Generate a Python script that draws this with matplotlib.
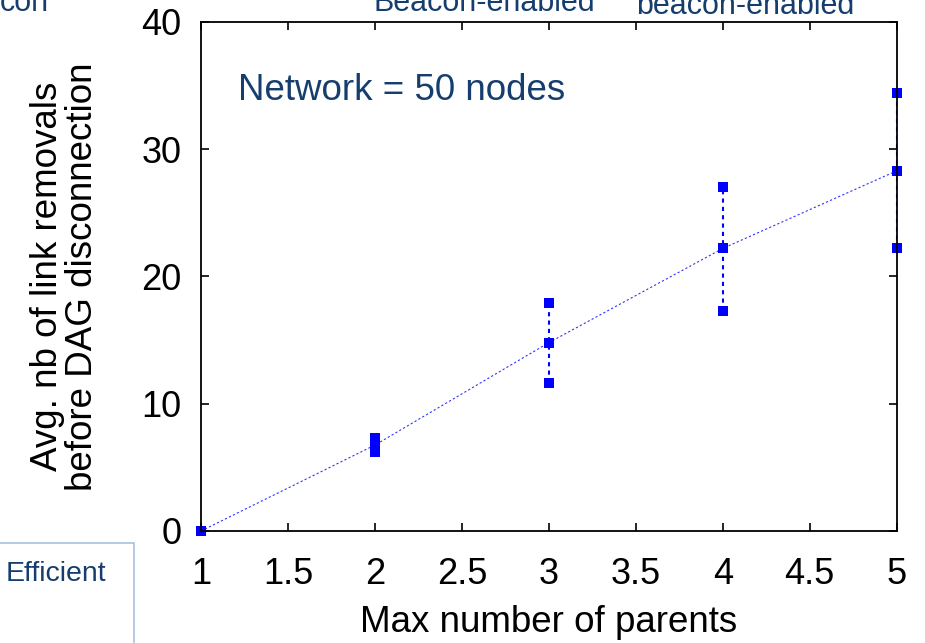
import matplotlib
matplotlib.use("Agg")
import matplotlib.pyplot as plt
from matplotlib.patches import Rectangle

plt.rcParams['font.family'] = ['Liberation Sans', 'DejaVu Sans']

# max number of parents and link removals before the DAG disconnects
parents = [1, 2, 3, 4, 5]
removals_mean = [0.0, 6.75, 14.8, 22.2, 28.3]
removals_low = [0.0, 6.2, 11.6, 17.3, 22.2]
removals_high = [0.0, 7.3, 17.9, 27.0, 34.4]

blue = '#0000ff'
navy = '#153e6e'

fig = plt.figure(figsize=(9.25, 6.43), dpi=100)
ax = fig.add_axes([0.2173, 0.1742, 0.752, 0.7916])

ax.plot(parents, removals_mean, color=blue, lw=0.8, ls=(0, (2, 2)), alpha=0.8)
for x, lo, hi in zip(parents, removals_low, removals_high):
    ax.plot([x, x], [lo, hi], color=blue, lw=1.5, ls=(0, (2, 2)))
for vals in (removals_mean, removals_low, removals_high):
    ax.plot(parents, vals, 's', color=blue, ms=7, mew=0, clip_on=False)

ax.set_xlim(1, 5)
ax.set_ylim(0, 40)
ax.set_xticks([1, 1.5, 2, 2.5, 3, 3.5, 4, 4.5, 5])
ax.set_xticklabels(['1', '1.5', '2', '2.5', '3', '3.5', '4', '4.5', '5'])
ax.set_yticks([0, 10, 20, 30, 40])
ax.tick_params(direction='in', top=True, right=True, length=6, width=1.2,
               labelsize=26)
ax.tick_params(axis='x', pad=19)
ax.tick_params(axis='y', pad=14)
for s in ax.spines.values():
    s.set_linewidth(1.3)

ax.set_xlabel('Max number of parents', fontsize=26.5, labelpad=9)
ax.set_ylabel('Avg. nb of link removals\nbefore DAG disconnection',
              fontsize=26.5, labelpad=30, linespacing=1.0)

ax.text(0.053, 0.865, 'Network = 50 nodes', transform=ax.transAxes,
        fontsize=26.5, color=navy, va='center')

# slide fragments around the plot
fig.text(0.0, 0.995, 'con', fontsize=22, color=navy, ha='left', va='center')
fig.text(0.524, 0.995, 'Beacon-enabled', fontsize=22, color=navy, ha='center', va='center')
fig.text(0.806, 0.99, 'beacon-enabled', fontsize=22, color=navy, ha='center', va='center')
fig.patches.append(Rectangle((-0.01, -0.01), 0.155, 0.165, transform=fig.transFigure,
                             fill=False, edgecolor='#a8c2de', lw=1.2))
fig.text(0.006, 0.108, 'Efficient', fontsize=20.5, color=navy, ha='left', va='center')

fig.savefig('out.png', dpi=100)
